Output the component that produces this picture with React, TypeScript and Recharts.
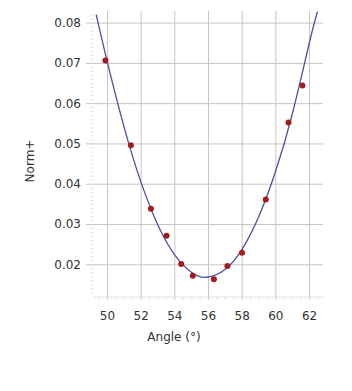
import React from 'react';
import { ComposedChart, Line, Scatter, XAxis, YAxis, ReferenceLine } from 'recharts';

const pointAngles = [49.88, 51.39, 52.58, 53.51, 54.38, 55.07, 56.32, 57.12, 57.99, 59.40, 60.75, 61.58];
const pointValues = [0.0707, 0.0497, 0.0339, 0.0272, 0.0202, 0.0173, 0.0164, 0.0197, 0.0230, 0.0362, 0.0553, 0.0645];

const curveAngles = [49.33, 50, 51, 52, 53, 54, 55, 55.9, 57, 58, 59, 60, 61, 62, 62.47];
const curveValues = [0.0821, 0.0702, 0.0540, 0.0404, 0.0298, 0.0224, 0.0181, 0.0169, 0.0189, 0.0239, 0.0321, 0.0434, 0.0578, 0.0753, 0.0828];

const xMajorTicks = [50, 52, 54, 56, 58, 60, 62];
const yMajorTicks = [0.02, 0.03, 0.04, 0.05, 0.06, 0.07, 0.08];
const xMinorTicks: number[] = [];
for (let i = 99; i <= 125; i++) xMinorTicks.push(i / 2);
const yMinorTicks: number[] = [];
for (let i = 13; i <= 82; i++) yMinorTicks.push(i / 1000);

const points = pointAngles.map((a, i) => ({ angle: a, value: pointValues[i] }));
const curve = curveAngles.map((a, i) => ({ angle: a, value: curveValues[i] }));

const FONT = '"DejaVu Sans", Verdana, sans-serif';
const TEXT = '#333333';
const GRID = '#c6c6c6';

const isXMajor = (v: number) => xMajorTicks.some((t) => Math.abs(t - v) < 1e-6);
const isYMajor = (v: number) => yMajorTicks.some((t) => Math.abs(t - v) < 1e-6);

const XTick = (props: any) => {
  const { x, y, payload } = props;
  const major = isXMajor(payload.value);
  return (
    <g>
      <line x1={x} x2={x} y1={y} y2={y + 3} stroke={major ? '#cfcfcf' : '#e0e0e0'} />
      {major && (
        <text x={x} y={y + 23} textAnchor="middle" fontFamily={FONT} fontSize={12} fill={TEXT}>
          {payload.value}
        </text>
      )}
    </g>
  );
};

const YTick = (props: any) => {
  const { x, y, payload } = props;
  const major = isYMajor(payload.value);
  return (
    <g>
      <line x1={x - (major ? 8 : 4)} x2={x} y1={y} y2={y} stroke={major ? GRID : '#e6e6e6'} />
      {major && (
        <text x={x - 13} y={y + 4} textAnchor="end" fontFamily={FONT} fontSize={12} fill={TEXT}>
          {payload.value.toFixed(2)}
        </text>
      )}
    </g>
  );
};

const Dot = (props: any) => {
  const { cx, cy } = props;
  return <circle cx={cx} cy={cy} r={3} fill="#a31c1c" />;
};

export default function App() {
  return (
    <ComposedChart width={344} height={360} margin={{ top: 3, right: 29, bottom: 10, left: 0 }}>
      <XAxis
        type="number"
        dataKey="angle"
        domain={[49.2, 62.8]}
        ticks={xMinorTicks}
        interval={0}
        tickSize={0}
        tickMargin={0}
        tickLine={false}
        axisLine={{ stroke: '#e2e2e2' }}
        tick={<XTick />}
        height={61}
        allowDataOverflow
        label={{
          content: (p: any) => {
            const vb = p.viewBox;
            return (
              <text x={vb.x + 80} y={vb.y + 44} textAnchor="middle" fontFamily={FONT} fontSize={12} fill={TEXT}>
                Angle (°)
              </text>
            );
          },
        }}
      />
      <YAxis
        type="number"
        dataKey="value"
        domain={[0.012, 0.083]}
        ticks={yMinorTicks}
        interval={0}
        tickSize={0}
        tickMargin={0}
        tickLine={false}
        axisLine={false}
        tick={<YTick />}
        width={86}
        allowDataOverflow
        label={{
          content: (p: any) => {
            const vb = p.viewBox;
            const cx = 22;
            const cy = vb.y + vb.height / 2 + 7;
            return (
              <text x={cx} y={cy} transform={`rotate(-90, ${cx}, ${cy})`} textAnchor="middle" dominantBaseline="central" fontFamily={FONT} fontSize={12} fill={TEXT}>
                Norm+
              </text>
            );
          },
        }}
      />
      {yMajorTicks.map((v) => (
        <ReferenceLine key={'y' + v} y={v} stroke={GRID} strokeWidth={1} />
      ))}
      {xMajorTicks.map((v) => (
        <ReferenceLine key={'x' + v} x={v} stroke={GRID} strokeWidth={1} />
      ))}
      <Line
        data={curve}
        dataKey="value"
        type="natural"
        stroke="#4a50a3"
        strokeWidth={1.3}
        dot={false}
        activeDot={false}
        isAnimationActive={false}
      />
      <Scatter data={points} dataKey="value" shape={<Dot />} isAnimationActive={false} />
    </ComposedChart>
  );
}
